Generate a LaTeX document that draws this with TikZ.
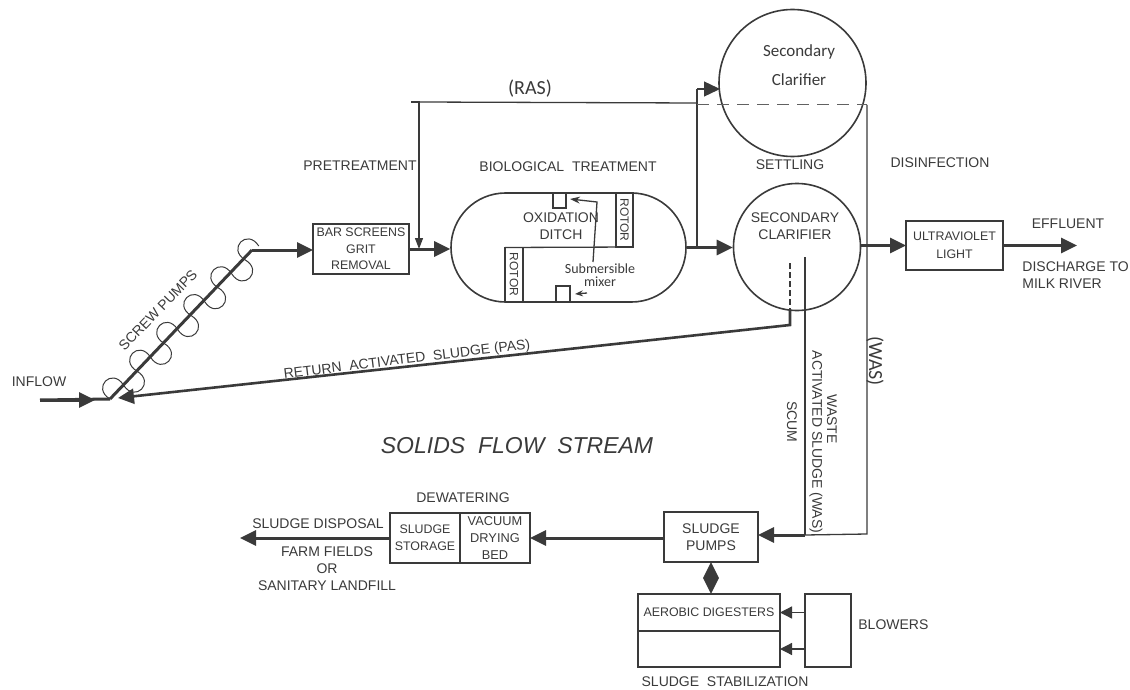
\documentclass[tikz,border=0pt]{standalone}
\usepackage{fontspec}
\setmainfont{Liberation Sans}
\newfontfamily\handfont{Carlito}
\usetikzlibrary{positioning,arrows.meta,shapes.misc}
\definecolor{ink}{HTML}{3A3A3A}

\begin{document}
\begin{tikzpicture}[
        x=0.5pt, y=-0.5pt,
        wire/.style={draw=ink, line width=0.65pt},
        pipe/.style={draw=ink, line width=1.5pt},
        flow/.style={pipe, -{Triangle[length=8pt,width=7.5pt]}},
        airflow/.style={wire, -{Triangle[length=6pt,width=6pt]}},
        unit/.style={draw=ink, line width=0.7pt, inner sep=0pt, outer sep=0pt, align=center, text=ink, font=\fontsize{7}{8.3}\selectfont},
        tag/.style={inner sep=0pt, align=center, text=ink, font=\fontsize{7}{8.5}\selectfont},
        hand/.style={inner sep=0pt, align=center, text=ink, font=\handfont\fontsize{8.5}{14.5}\selectfont}
    ]
        \useasboundingbox (0,0) rectangle (1130,690);

        % liquid train
        \node[unit, font=\fontsize{6.2}{8.3}\selectfont, minimum width=48pt, minimum height=25pt] (bars) at (361,249) {BAR SCREENS\\GRIT\\REMOVAL};
        \node[draw=ink, line width=0.8pt, rounded rectangle, minimum width=117.5pt, minimum height=54.5pt, inner sep=0pt] (ditch) at (568.5,247.5) {};
        \node[unit, font=\fontsize{6}{7}\selectfont, minimum width=27pt, minimum height=8.5pt, rotate=-90] (rotora) at (624.5,220) {ROTOR};
        \node[unit, font=\fontsize{6}{7}\selectfont, minimum width=27pt, minimum height=9pt, rotate=-90] (rotorb) at (514,274.5) {ROTOR};
        \node[unit, minimum width=6.5pt, minimum height=7.5pt] (mixtop) at (559.5,200.5) {};
        \node[unit, minimum width=7pt, minimum height=8pt] (mixbot) at (563,294) {};
        \node[tag] (oxlabel) at (561,226) {OXIDATION\\DITCH};
        \node[hand, font=\handfont\fontsize{7}{6.5}\selectfont] (mixlabel) at (600,275) {Submersible\\mixer};
        \node[draw=ink, line width=0.8pt, circle, minimum size=63.5pt, inner sep=0pt] (lower) at (797,247) {};
        \node[tag] (lowerlabel) at (795,226) {SECONDARY\\CLARIFIER};
        \node[draw=ink, line width=0.8pt, circle, minimum size=73.5pt, inner sep=0pt] (upper) at (792.5,83) {};
        \node[hand] (upperlabel) at (799,65) {Secondary\\Clarifier};
        \node[unit, font=\fontsize{6.2}{9}\selectfont, minimum width=48.5pt, minimum height=24.5pt] (uv) at (954.5,245.5) {ULTRAVIOLET\\LIGHT};

        % solids train
        \node[unit, minimum width=47pt, minimum height=25pt] (pumps) at (711,537) {SLUDGE\\PUMPS};
        \node[unit, font=\fontsize{6.4}{8.3}\selectfont, minimum width=35pt, minimum height=25pt] (vacuum) at (495,538) {VACUUM\\DRYING\\BED};
        \node[unit, font=\fontsize{6.2}{8.3}\selectfont, minimum width=35pt, minimum height=25pt, left=0pt of vacuum] (storage) {SLUDGE\\STORAGE};
        \node[unit, font=\fontsize{6.2}{8}\selectfont, minimum width=71pt, minimum height=18.5pt] (digesta) at (709,612.5) {AEROBIC DIGESTERS};
        \node[unit, minimum width=71pt, minimum height=18pt, below=0pt of digesta] (digestb) {};
        \node[unit, minimum width=23pt, minimum height=36.5pt] (blowers) at (828,630.5) {};

        % free ends of the connectors
        \coordinate (inflowstart) at (40,400);
        \coordinate (inflowtip) at (95,400);
        \coordinate (screwbot) at (110,399);
        \coordinate (screwtop) at (252,250);
        \coordinate (rasin) at (419,249);
        \coordinate (rasleft) at (411,102);
        \coordinate (rascorner) at (419,102);
        \coordinate (rasright) at (697,103);
        \coordinate (ditchjoin) at (697,247.5);
        \coordinate (rasup) at (697,89);
        \coordinate (rastip) at (720,89);
        \coordinate (wasleft) at (697,105);
        \coordinate (wasright) at (867,105);
        \coordinate (wasbot) at (867,534);
        \coordinate (scumtop) at (805,257);
        \coordinate (scumbot) at (805,535);
        \coordinate (pastop) at (790,263);
        \coordinate (pasmid) at (790,310);
        \coordinate (pasbend) at (790,325);
        \coordinate (pastip) at (118,398);
        \coordinate (effluent) at (1077,245.5);
        \coordinate (disposal) at (240,538);
        \coordinate (mixstart) at (593,262);
        \coordinate (mixbend) at (597,202);
        \coordinate (mixend) at (570,199);
        \coordinate (mixshort) at (587,293);
        \coordinate (mixshorttip) at (575,294);

        % screw pumps
        \draw[pipe] (inflowstart) -- (screwbot);
        \draw[flow] (inflowstart) -- (inflowtip);
        \draw[pipe] (screwbot) -- (screwtop);
        \begin{scope}[shift={(screwbot)}, rotate=45.8]
            \foreach \k in {0,...,10} {
                \pgfmathsetmacro{\a}{\k*19.4}
                \pgfmathsetmacro{\b}{(\k+1)*19.4}
                \pgfmathsetmacro{\s}{2*mod(\k,2)-1}
                \draw[draw=ink, line width=0.5pt] (\a,0) .. controls (\a-5,\s*21) and (\b+5,\s*21) .. (\b,0);
            }
        \end{scope}

        % liquid connectors
        \draw[flow] (screwtop) -- (screwtop -| bars.west);
        \draw[flow] (bars.east) -- (bars.east -| ditch.west);
        \draw[flow] (ditch.east) -- (ditch.east -| lower.west);
        \draw[flow] (uv.west -| lower.east) -- (uv.west);
        \draw[flow] (uv.east) -- (effluent);
        \draw[wire] (rotorb.west) ++(-9,0) -- (rotora.east -| rotora.north);
        \draw[wire, -{Stealth[length=5pt,width=3.5pt]}] (mixstart) -- (mixbend) -- (mixend);
        \draw[wire, -{Stealth[length=4pt,width=3pt]}] (mixshort) -- (mixshorttip);

        % recycle lines
        \draw[wire, -{Triangle[length=5.5pt,width=4pt]}] (rasleft) -- (rascorner) -- (rasin);
        \draw[wire] (rascorner) -- (rasright);
        \draw[wire] (ditchjoin) -- (rasup);
        \draw[flow, line width=0.65pt] (rasup) -- (rastip);
        \draw[draw=ink!80, line width=0.5pt, dash pattern=on 6pt off 4pt] (wasleft) -- (wasright);
        \draw[wire] (wasright) -- (wasbot) -- (scumbot);
        \draw[draw=ink, line width=1.1pt] (scumtop) -- (scumbot);
        \draw[flow] (scumbot) -- (scumbot -| pumps.east);
        \draw[draw=ink, line width=1.4pt, dash pattern=on 3pt off 1.5pt] (pastop) -- (pasmid);
        \draw[flow, line width=1.3pt] (pasmid) -- (pasbend) -- (pastip);

        % solids connectors
        \draw[flow] (pumps.west |- vacuum.east) -- (vacuum.east);
        \draw[flow] (storage.west) -- (disposal);
        \draw[pipe, {Triangle[length=8pt,width=7.5pt]}-{Triangle[length=8pt,width=7.5pt]}] (pumps.south) -- (digesta.north -| pumps.south);
        \draw[airflow] (digesta -| blowers.west) -- (digesta.east);
        \draw[airflow] (digestb -| blowers.west) -- (digestb.east);

        % labels
        \node[tag] (inflowlabel) at (39,382) {INFLOW};
        \node[tag, rotate=46] (screwlabel) at (158,310) {SCREW PUMPS};
        \node[tag, rotate=7] (paslabel) at (407,360) {RETURN\ \ ACTIVATED\ \ SLUDGE (PAS)};
        \node[tag] (pretreat) at (360,166) {PRETREATMENT};
        \node[tag] (biolabel) at (568,167) {BIOLOGICAL\ \ TREATMENT};
        \node[tag] (settling) at (790,165) {SETTLING};
        \node[tag] (disinfect) at (940,163) {DISINFECTION};
        \node[hand, font=\handfont\fontsize{10}{12}\selectfont] (raslabel) at (530,89) {(RAS)};
        \node[hand, font=\handfont\fontsize{10}{12}\selectfont, rotate=-90] (waslabel) at (875,361) {(WAS)};
        \node[tag] (efflabel) at (1068,224) {EFFLUENT};
        \node[tag, anchor=west, align=left, font=\fontsize{7}{8.7}\selectfont] (milklabel) at (1022,275) {DISCHARGE TO\\MILK RIVER};
        \node[tag, font=\itshape\fontsize{11.5}{13}\selectfont] (solidslabel) at (517,446) {SOLIDS\ \ FLOW\ \ STREAM};
        \node[tag, rotate=-90] (scumlabel) at (792,422) {SCUM};
        \node[tag, rotate=-90] (wastelabel) at (832,419) {WASTE};
        \node[tag, rotate=-90] (activated) at (816,442) {ACTIVATED SLUDGE (WAS)};
        \node[tag] (dewater) at (463,498) {DEWATERING};
        \node[tag] (disposallabel) at (318,524) {SLUDGE DISPOSAL};
        \node[tag] (farmlabel) at (327,569) {FARM FIELDS\\OR\\SANITARY LANDFILL};
        \node[tag, anchor=west] (blowerlabel) at (858,625) {BLOWERS};
        \node[tag] (stablabel) at (725,682) {SLUDGE\ \ STABILIZATION};
    \end{tikzpicture}
\end{document}
